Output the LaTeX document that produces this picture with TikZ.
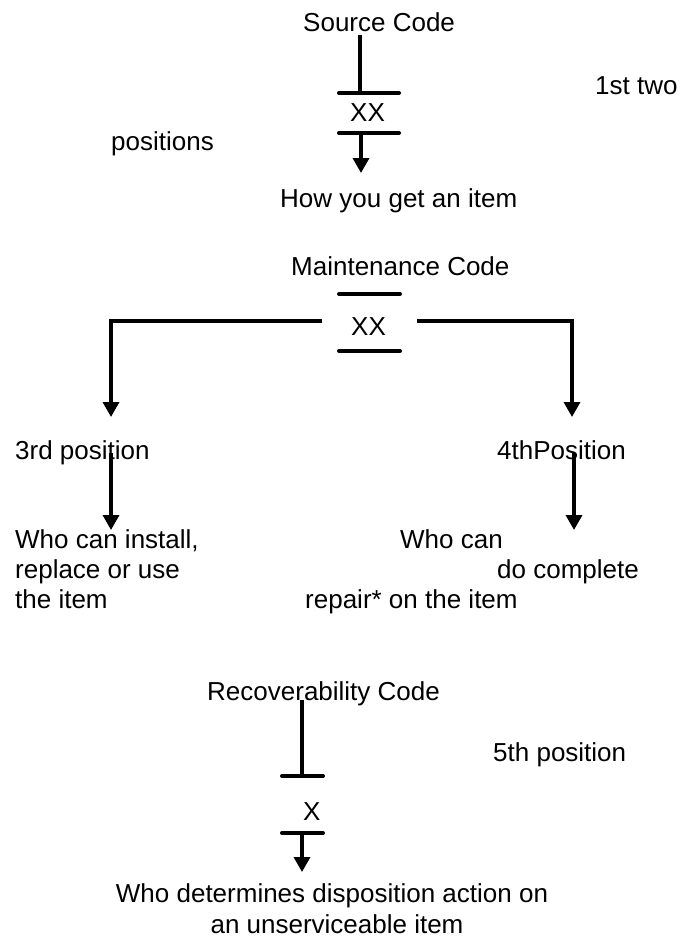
\documentclass[tikz,border=0pt]{standalone}
\usepackage{fontspec}
\setmainfont{Liberation Sans}
\usepackage{tikz}
\usetikzlibrary{arrows.meta}

\begin{document}
\begin{tikzpicture}[x=1pt,y=-1pt,
  font=\fontsize{26}{30}\selectfont,
  txt/.style={anchor=base west,inner sep=0pt},
  ctr/.style={anchor=base,inner sep=0pt},
  ln/.style={line width=3.4pt},
  bar/.style={line width=4pt,line cap=round},
  arr/.style={line width=3.4pt,-{Triangle[width=16pt,length=15pt]}}]
\useasboundingbox (0,0) rectangle (689,945);


% source code
\node [txt] (src) at (303,31) {Source Code};
\node [txt] (srcxx) at (350,121) {XX};
\node [txt] (first) at (595,94) {1st two};
\node [txt] (positions) at (111,150) {positions};
\node [txt] (how) at (280,207) {How you get an item};
\coordinate (s0) at (360,35);
\coordinate (s1) at (360,93);
\coordinate (s2) at (361,133);
\coordinate (s3) at (361,173);
\draw [ln] (s0) -- (s1);
\draw [bar] (339,93) -- (399,93);
\draw [bar] (339,133) -- (399,133);
\draw [arr] (s2) -- (s3);


% maintenance code
\node [txt] (mnt) at (291,275) {Maintenance Code};
\node [txt] (mntxx) at (351,335) {XX};
\draw [bar] (339,294) -- (400,294);
\draw [bar] (339,351) -- (400,351);
\coordinate (ml) at (322,321);
\coordinate (mr) at (417,321);
\coordinate (l0) at (111,417);
\coordinate (r0) at (572,417);
\draw [arr] (ml) -| (l0);
\draw [arr] (mr) -| (r0);

\node [txt] (third) at (15,459) {3rd position};
\node [txt] (fourth) at (497,459) {4thPosition};
\coordinate (l1) at (111,453);
\coordinate (l2) at (111,530);
\coordinate (r1) at (574,453);
\coordinate (r2) at (574,530);
\draw [arr] (l1) -- (l2);
\draw [arr] (r1) -- (r2);

\node [txt] (inst1) at (15,548) {Who can install,};
\node [txt] (inst2) at (15,578) {replace or use};
\node [txt] (inst3) at (15,608) {the item};
\node [txt] (rep1) at (400,548) {Who can};
\node [txt] (rep2) at (497,578) {do complete};
\node [txt] (rep3) at (305,608) {repair* on the item};


% recoverability code
\node [txt] (rec) at (207,700) {Recoverability Code};
\node [txt] (fifth) at (493,761) {5th position};
\node [txt] (recx) at (303,820) {X};
\coordinate (c0) at (302,700);
\coordinate (c1) at (302,776);
\coordinate (c2) at (302,833);
\coordinate (c3) at (302,872);
\draw [ln] (c0) -- (c1);
\draw [bar] (282,776) -- (323,776);
\draw [bar] (282,833) -- (323,833);
\draw [arr] (c2) -- (c3);
\node [ctr] (disp1) at (332,902) {Who determines disposition action on};
\node [ctr] (disp2) at (337,933) {an unserviceable item};
\end{tikzpicture}
\end{document}
